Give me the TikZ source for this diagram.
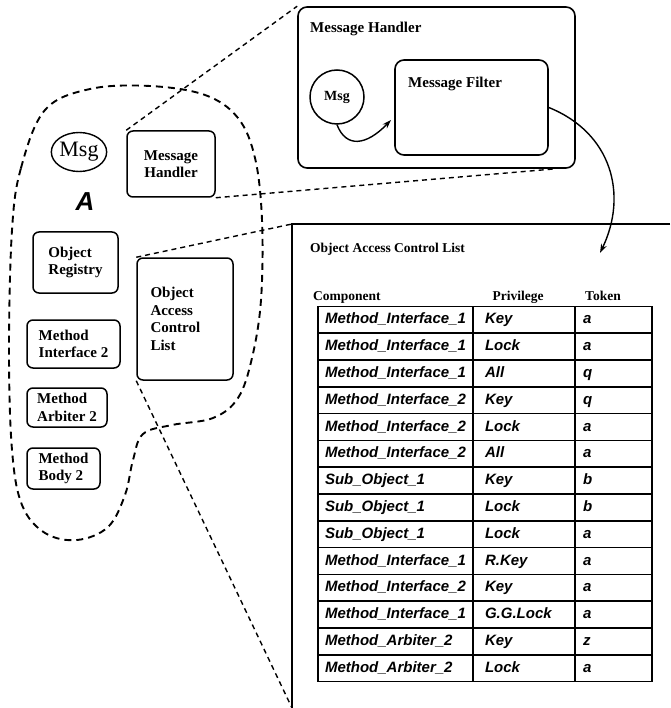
\documentclass[tikz,border=0pt]{standalone}
\usepackage{fontspec}
\setmainfont{Liberation Serif}
\newfontfamily\tablefont{Liberation Sans}
\usetikzlibrary{positioning,shapes.geometric,arrows.meta}

\begin{document}
\begin{tikzpicture}[
		x=1pt, y=-1pt,
		% Define styles for nodes
		modulebox/.style={
				draw,
				rectangle,
				rounded corners=6pt,
				line width=1.5pt,
				inner sep=0pt,
				align=left,
				font=\fontsize{15}{17.5}\selectfont\bfseries
			},
		framebox/.style={
				draw,
				rectangle,
				rounded corners=9pt,
				line width=1.6pt
			},
		cellbox/.style={
				draw,
				rectangle,
				line width=1.6pt,
				minimum height=26.8pt,
				text height=11pt,
				text depth=3pt,
				inner ysep=0pt,
				align=left,
				font=\tablefont\fontsize{15}{17}\selectfont\bfseries\itshape
			},
		headtext/.style={
				anchor=base,
				inner sep=0pt,
				font=\fontsize{13.5}{16}\selectfont\bfseries
			},
		arrow/.style={
				-{Stealth[length=9pt,width=6pt]},
				line width=1.4pt
			},
		zoomline/.style={
				line width=1.4pt,
				dash pattern=on 5pt off 4pt
			},
		boundary/.style={
				line width=1.9pt,
				dash pattern=on 7pt off 5pt
			}
	]

	\useasboundingbox (0,0) rectangle (670,708);

	% Object A with its components
	\node[ellipse, draw, line width=1.4pt, minimum width=55pt, minimum height=39pt, inner sep=0pt,
		font=\fontsize{22}{22}\selectfont] (msgleft) at (79,152) {Msg};
	\node[font=\tablefont\fontsize{26}{26}\selectfont\bfseries\itshape, inner sep=0pt] (objA) at (85,202) {A};

	\node[modulebox, align=center, minimum width=88pt, minimum height=66pt] (handlerleft) at (171,164) {Message\\Handler};
	\node[modulebox, minimum width=85pt, minimum height=61pt] (registry) at (75.5,262.5) {Object\\Registry};
	\node[modulebox, text width=69pt, inner xsep=13.5pt, minimum height=122pt] (acl) at (185,319) {Object\\Access\\Control\\List};
	\node[modulebox, minimum width=93pt, minimum height=48pt] (interface) at (73.5,344) {Method\\Interface 2};
	\node[modulebox, minimum width=80pt, minimum height=39pt] (arbiter) at (67,407.5) {Method\\Arbiter 2};
	\node[modulebox, minimum width=73pt, minimum height=41pt] (body) at (63.5,468.5) {Method\\Body 2};

	% Boundary of object A
	\draw[boundary] plot[smooth cycle, tension=0.6] coordinates {
			(12,230) (21,168) (45,110) (90,89) (150,86) (205,95) (238,118)
			(255,158) (262,220) (261,300) (252,358) (238,398) (213,418)
			(172,425) (143,434) (133,460) (125,495) (108,527) (77,540)
			(45,533) (22,505) (12,450) (9,350)};

	% Message Handler, enlarged
	\node[framebox, minimum width=277pt, minimum height=161pt] (handler) at (436.5,87.5) {};
	\node[anchor=base west, inner sep=0pt, font=\fontsize{15}{17}\selectfont\bfseries] (handlertitle) at (310,33) {Message Handler};
	\node[circle, draw, line width=1.5pt, minimum size=54pt, inner sep=0pt,
		font=\fontsize{14}{14}\selectfont\bfseries] (msgtop) at (337,97) {Msg};
	\node[framebox, minimum width=153pt, minimum height=95pt] (filter) at (471.5,107.5) {};
	\node[anchor=base west, inner sep=0pt, font=\fontsize{15}{17}\selectfont\bfseries] (filtertitle) at (408,88) {Message Filter};

	% Object Access Control List, enlarged
	\coordinate (tablene) at (670,224);
	\coordinate (tablenw) at (292,224);
	\coordinate (tablesw) at (292,708);
	\coordinate (aclentry) at (600,253);
	\draw[line width=1.6pt] (tablene) -- (tablenw) -- (tablesw);

	\node[headtext, anchor=base west] (acltitle) at (310,253) {Object Access Control List};
	\node[headtext, anchor=base west] (headcomp) at (313,300) {Component};
	\node[headtext] (headpriv) at (518,300) {Privilege};
	\node[headtext] (headtok) at (603,300) {Token};

	% Table rows
	\foreach \comp/\priv/\tok [count=\i] in {
			Method\_Interface\_1/Key/a,
			Method\_Interface\_1/Lock/a,
			Method\_Interface\_1/All/q,
			Method\_Interface\_2/Key/q,
			Method\_Interface\_2/Lock/a,
			Method\_Interface\_2/All/a,
			Sub\_Object\_1/Key/b,
			Sub\_Object\_1/Lock/b,
			Sub\_Object\_1/Lock/a,
			Method\_Interface\_1/R.Key/a,
			Method\_Interface\_2/Key/a,
			Method\_Interface\_1/G.G.Lock/a,
			Method\_Arbiter\_2/Key/z,
			Method\_Arbiter\_2/Lock/a}{
			\pgfmathsetmacro\rowy{306.4+26.8*(\i-0.5)}
			\node[cellbox, text width=141pt, inner xsep=7pt] (comp-\i) at (395.5,\rowy) {\comp};
			\node[cellbox, text width=78pt, inner xsep=12pt] (priv-\i) at (524,\rowy) {\priv};
			\node[cellbox, text width=61pt, inner xsep=8pt] (tok-\i) at (613.5,\rowy) {\tok};
		}

	% Zoom lines
	\draw[zoomline] (handlerleft.north west) -- (handler.north west);
	\draw[zoomline] (handlerleft.south east) -- ([xshift=-20pt]handler.south east);
	\draw[zoomline] (acl.north west) -- (tablenw);
	\draw[zoomline] (acl.south west) -- (tablesw);

	% Message flow
	\draw[arrow] (msgtop.south) .. controls (346,148) and (366,146) .. (391,120);
	\draw[arrow] (filter.east) .. controls (612,133) and (628,195) .. (aclentry);

\end{tikzpicture}
\end{document}
